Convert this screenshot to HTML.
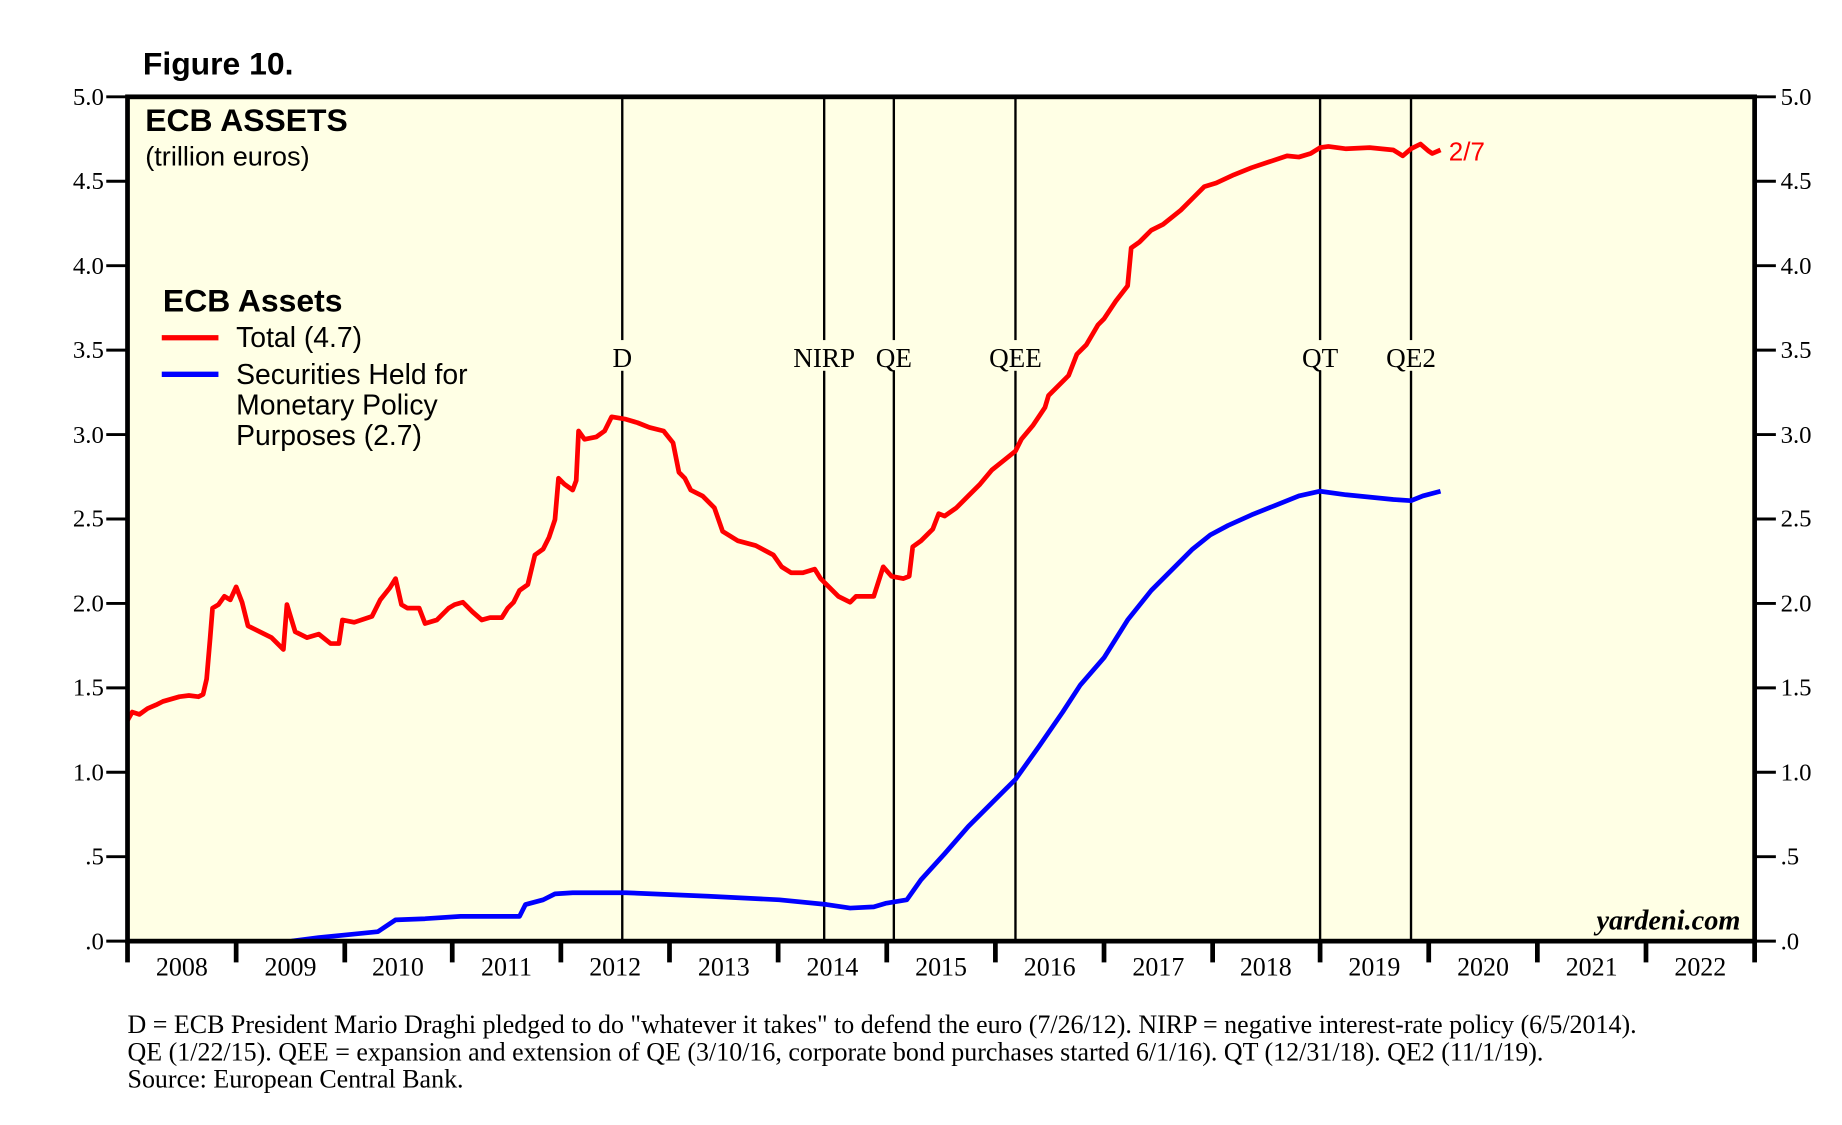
<!DOCTYPE html>
<html><head><meta charset="utf-8"><style>html,body{margin:0;padding:0;background:#fff}svg{display:block}</style></head>
<body>
<svg width="1842" height="1125" viewBox="0 0 1560 952.7" preserveAspectRatio="none" xmlns="http://www.w3.org/2000/svg">
<rect x="108" y="82" width="1378" height="715" fill="#FFFFE5"/>
<text x="121" y="63" font-family="Liberation Sans, sans-serif" font-weight="bold" font-size="27">Figure 10.</text>
<g stroke="#000" stroke-width="2">
<line x1="527" y1="82" x2="527" y2="797"/><line x1="698" y1="82" x2="698" y2="797"/><line x1="757" y1="82" x2="757" y2="797"/><line x1="860" y1="82" x2="860" y2="797"/><line x1="1118" y1="82" x2="1118" y2="797"/><line x1="1195" y1="82" x2="1195" y2="797"/>
</g>
<g font-family="Liberation Serif, serif" font-size="23" text-anchor="middle" fill="#000">
<rect x="512" y="288" width="30" height="26" fill="#FFFFE5"/><text x="527" y="311">D</text>
<rect x="668" y="288" width="122" height="26" fill="#FFFFE5"/><text x="698" y="311">NIRP</text><text x="757" y="311">QE</text>
<rect x="832" y="288" width="56" height="26" fill="#FFFFE5"/><text x="860" y="311">QEE</text>
<rect x="1098" y="288" width="124" height="26" fill="#FFFFE5"/><text x="1118" y="311">QT</text><text x="1195" y="311">QE2</text>
</g>
<polyline fill="none" stroke="#0000FF" stroke-width="4" stroke-linejoin="round" points="247,797 270,794 300,791 320,789 335,779 360,778 390,776 440,776 445,766 460,762 470,757 485,756 530,756 600,759 660,762 700,766 720,769 740,768 750,765 768,762 780,745 800,723 820,700 840,680 860,660 880,632 900,603 915,580 935,557 955,525 975,500 995,480 1010,465 1025,453 1040,445 1060,436 1080,428 1100,420 1118,416 1140,419 1160,421 1180,423 1195,424 1205,420 1220,416"/>
<polyline fill="none" stroke="#FF0000" stroke-width="4" stroke-linejoin="round" points="108,610 112,603 118,605 125,600 132,597 138,594 145,592 152,590 160,589 168,590 172,588 175,575 178,540 180,515 185,512 190,505 195,508 200,497 205,510 210,530 220,535 230,540 240,550 243,512 250,535 260,540 270,537 280,545 287,545 290,525 300,527 315,522 322,508 330,498 335,490 340,512 345,515 355,515 360,528 370,525 380,515 385,512 392,510 400,518 408,525 415,523 425,523 430,515 435,510 440,500 447,495 453,470 460,465 465,455 470,440 473,405 478,410 485,415 488,407 490,365 495,372 505,370 512,365 518,353 530,355 540,358 550,362 562,365 570,375 575,400 580,405 585,415 595,420 605,430 612,450 625,458 640,462 655,470 662,480 670,485 680,485 690,482 695,490 700,495 710,505 720,510 725,505 740,505 748,480 755,488 765,490 770,488 773,463 780,458 790,448 795,435 800,437 810,430 820,420 830,410 840,398 850,390 860,382 865,372 875,360 885,345 888,335 895,328 905,318 912,300 920,292 930,275 935,270 945,255 955,242 958,210 965,205 975,195 985,190 1000,178 1010,168 1020,158 1030,155 1045,148 1060,142 1075,137 1090,132 1100,133 1110,130 1118,125 1125,124 1140,126 1160,125 1180,127 1188,132 1195,126 1203,122 1210,128 1213,130 1220,127"/>
<text x="1227" y="136" font-family="Liberation Sans, sans-serif" font-size="22" fill="#FF0000">2/7</text>
<rect x="108" y="82" width="1378" height="715" fill="none" stroke="#000" stroke-width="4"/>
<g stroke="#000" stroke-width="2.5">
<line x1="90" y1="82" x2="108" y2="82"/><line x1="90" y1="153.5" x2="108" y2="153.5"/><line x1="90" y1="225" x2="108" y2="225"/><line x1="90" y1="296.5" x2="108" y2="296.5"/><line x1="90" y1="368" x2="108" y2="368"/><line x1="90" y1="439.5" x2="108" y2="439.5"/><line x1="90" y1="511" x2="108" y2="511"/><line x1="90" y1="582.5" x2="108" y2="582.5"/><line x1="90" y1="654" x2="108" y2="654"/><line x1="90" y1="725.5" x2="108" y2="725.5"/><line x1="90" y1="797" x2="108" y2="797"/>
<line x1="1486" y1="82" x2="1504" y2="82"/><line x1="1486" y1="153.5" x2="1504" y2="153.5"/><line x1="1486" y1="225" x2="1504" y2="225"/><line x1="1486" y1="296.5" x2="1504" y2="296.5"/><line x1="1486" y1="368" x2="1504" y2="368"/><line x1="1486" y1="439.5" x2="1504" y2="439.5"/><line x1="1486" y1="511" x2="1504" y2="511"/><line x1="1486" y1="582.5" x2="1504" y2="582.5"/><line x1="1486" y1="654" x2="1504" y2="654"/><line x1="1486" y1="725.5" x2="1504" y2="725.5"/><line x1="1486" y1="797" x2="1504" y2="797"/>
</g>
<g stroke="#000" stroke-width="4">
<line x1="108" y1="797" x2="108" y2="815"/><line x1="200" y1="797" x2="200" y2="815"/><line x1="292" y1="797" x2="292" y2="815"/><line x1="383" y1="797" x2="383" y2="815"/><line x1="475" y1="797" x2="475" y2="815"/><line x1="567" y1="797" x2="567" y2="815"/><line x1="659" y1="797" x2="659" y2="815"/><line x1="751" y1="797" x2="751" y2="815"/><line x1="843" y1="797" x2="843" y2="815"/><line x1="935" y1="797" x2="935" y2="815"/><line x1="1027" y1="797" x2="1027" y2="815"/><line x1="1118" y1="797" x2="1118" y2="815"/><line x1="1210" y1="797" x2="1210" y2="815"/><line x1="1302" y1="797" x2="1302" y2="815"/><line x1="1394" y1="797" x2="1394" y2="815"/><line x1="1486" y1="797" x2="1486" y2="815"/>
</g>
<g font-family="Liberation Serif, serif" font-size="21" text-anchor="end">
<text x="88" y="89">5.0</text><text x="88" y="160">4.5</text><text x="88" y="232">4.0</text><text x="88" y="303">3.5</text><text x="88" y="375">3.0</text><text x="88" y="446">2.5</text><text x="88" y="518">2.0</text><text x="88" y="589">1.5</text><text x="88" y="661">1.0</text><text x="88" y="732">.5</text><text x="88" y="804">.0</text>
</g>
<g font-family="Liberation Serif, serif" font-size="21">
<text x="1508" y="89">5.0</text><text x="1508" y="160">4.5</text><text x="1508" y="232">4.0</text><text x="1508" y="303">3.5</text><text x="1508" y="375">3.0</text><text x="1508" y="446">2.5</text><text x="1508" y="518">2.0</text><text x="1508" y="589">1.5</text><text x="1508" y="661">1.0</text><text x="1508" y="732">.5</text><text x="1508" y="804">.0</text>
</g>
<g font-family="Liberation Serif, serif" font-size="22" text-anchor="middle">
<text x="154" y="826">2008</text><text x="246" y="826">2009</text><text x="337" y="826">2010</text><text x="429" y="826">2011</text><text x="521" y="826">2012</text><text x="613" y="826">2013</text><text x="705" y="826">2014</text><text x="797" y="826">2015</text><text x="889" y="826">2016</text><text x="981" y="826">2017</text><text x="1072" y="826">2018</text><text x="1164" y="826">2019</text><text x="1256" y="826">2020</text><text x="1348" y="826">2021</text><text x="1440" y="826">2022</text>
</g>
<text x="1474" y="787" text-anchor="end" font-family="Liberation Serif, serif" font-style="italic" font-weight="bold" font-size="24">yardeni.com</text>
<text x="123" y="111" font-family="Liberation Sans, sans-serif" font-weight="bold" font-size="27">ECB ASSETS</text>
<text x="123" y="140" font-family="Liberation Sans, sans-serif" font-size="23">(trillion euros)</text>
<text x="138" y="264" font-family="Liberation Sans, sans-serif" font-weight="bold" font-size="27">ECB Assets</text>
<line x1="137" y1="286" x2="185" y2="286" stroke="#FF0000" stroke-width="4.5"/>
<line x1="137" y1="317" x2="185" y2="317" stroke="#0000FF" stroke-width="4.5"/>
<g font-family="Liberation Sans, sans-serif" font-size="24">
<text x="200" y="294">Total (4.7)</text><text x="200" y="325">Securities Held for</text><text x="200" y="351">Monetary Policy</text><text x="200" y="377">Purposes (2.7)</text>
</g>
<g font-family="Liberation Serif, serif" font-size="22">
<text x="108" y="875">D = ECB President Mario Draghi pledged to do "whatever it takes" to defend the euro (7/26/12). NIRP = negative interest-rate policy (6/5/2014).</text>
<text x="108" y="898">QE (1/22/15). QEE = expansion and extension of QE (3/10/16, corporate bond purchases started 6/1/16). QT (12/31/18). QE2 (11/1/19).</text>
<text x="108" y="921">Source: European Central Bank.</text>
</g>
</svg>
</body></html>
